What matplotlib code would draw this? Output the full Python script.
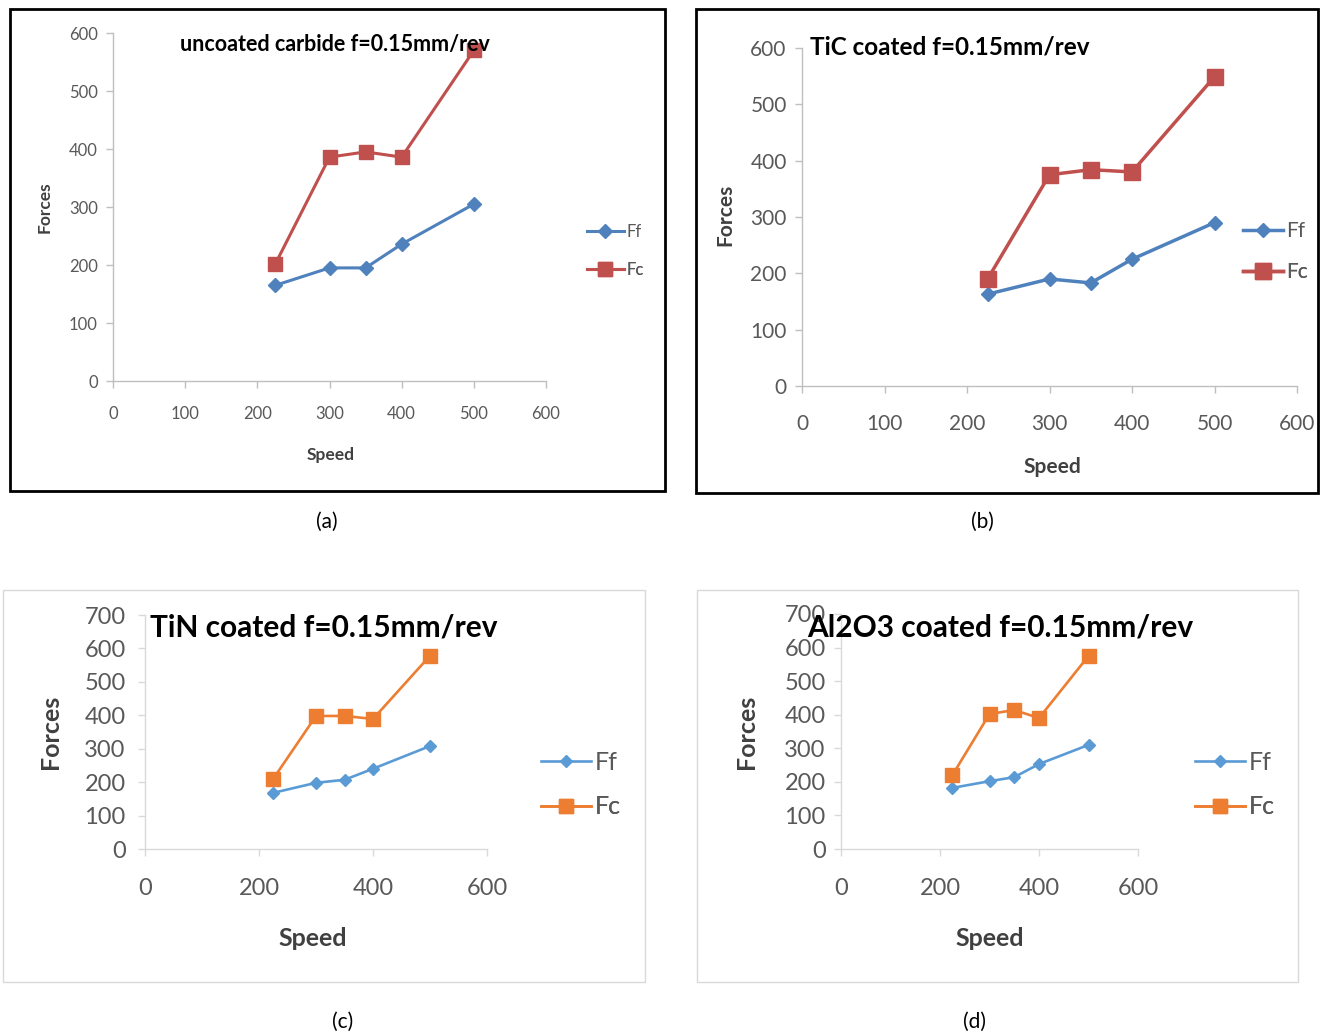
import matplotlib
matplotlib.use("Agg")
import matplotlib.pyplot as plt
from matplotlib.patches import Rectangle

plt.rcParams['font.family'] = ['Lato', 'DejaVu Sans']

# ---- data ----
speed = [225, 300, 350, 400, 500]

ff_a = [165, 195, 195, 236, 305]
fc_a = [202, 386, 395, 386, 570]

ff_b = [163, 190, 183, 225, 290]
fc_b = [190, 375, 384, 380, 549]

ff_c = [168, 198, 207, 240, 308]
fc_c = [210, 398, 398, 389, 578]

ff_d = [182, 202, 214, 253, 310]
fc_d = [220, 402, 414, 390, 575]

titles = ["uncoated carbide f=0.15mm/rev", "TiC coated f=0.15mm/rev",
          "TiN coated f=0.15mm/rev", "Al2O3 coated f=0.15mm/rev"]
captions = ["(a)", "(b)", "(c)", "(d)"]
series_names = ["Ff", "Fc"]
x_label = "Speed"
y_label = "Forces"

W, H = 1320, 1035
fig = plt.figure(figsize=(W / 100, H / 100), dpi=100)


def fx(p):
    return p / W


def fy(p):
    return 1 - p / H


def frame(x0, y0, x1, y1, color, lw):
    r = Rectangle((fx(x0), fy(y1)), (x1 - x0) / W, (y1 - y0) / H,
                  transform=fig.transFigure, fill=False, edgecolor=color, lw=lw)
    fig.patches.append(r)


panels = [
    dict(ff=ff_a, fc=fc_a, box=(113, 33, 546, 381), ymax=600, xstep=100, ystep=100,
         cols=("#4F81BD", "#C0504D"), tick_fs=12, lab_fs=12.5, title_fs=15.5,
         title_xy=(335, 44), title_ha='center', ms=(7.5, 10), lw=2.2,
         xpad=13, ypad=6,
         xlab_xy=(331, 455), ylab_xy=(45, 207), leg_x=587, leg_y=(232, 270),
         leg_fs=12, hl=2.2,
         frame=(10, 9, 665, 491), fcol='black', flw=2.0, cap_xy=(327, 522)),
    dict(ff=ff_b, fc=fc_b, box=(802, 48, 1297, 386), ymax=600, xstep=100, ystep=100,
         cols=("#4F81BD", "#C0504D"), tick_fs=15, lab_fs=15, title_fs=17.5,
         title_xy=(810, 47), title_ha='left', ms=(7.5, 11.5), lw=2.5,
         xpad=15, ypad=6,
         xlab_xy=(1052, 467), ylab_xy=(725, 215), leg_x=1243, leg_y=(231, 272),
         leg_fs=15, hl=1.9,
         frame=(696, 9, 1318, 493), fcol='black', flw=2.0, cap_xy=(982, 522)),
    dict(ff=ff_c, fc=fc_c, box=(145, 615, 487, 849), ymax=700, xstep=200, ystep=100,
         cols=("#5B9BD5", "#ED7D31"), tick_fs=17, lab_fs=18, title_fs=21.5,
         title_xy=(150, 628), title_ha='left', ms=(6, 9.5), lw=1.9,
         xpad=16, ypad=9,
         xlab_xy=(313, 938), ylab_xy=(50, 732), leg_x=541, leg_y=(762, 807),
         leg_fs=18, hl=2.0,
         frame=(3, 590, 645, 982), fcol='#D9D9D9', flw=1.0, cap_xy=(343, 1022)),
    dict(ff=ff_d, fc=fc_d, box=(841, 614, 1138, 849), ymax=700, xstep=200, ystep=100,
         cols=("#5B9BD5", "#ED7D31"), tick_fs=17, lab_fs=18, title_fs=21.5,
         title_xy=(807, 628), title_ha='left', ms=(6, 9.5), lw=1.9,
         xpad=16, ypad=6,
         xlab_xy=(990, 938), ylab_xy=(747, 732), leg_x=1195, leg_y=(762, 807),
         leg_fs=18, hl=2.0,
         frame=(697, 590, 1298, 982), fcol='#D9D9D9', flw=1.0, cap_xy=(974, 1022)),
]

text_gray = "#595959"

for i, p in enumerate(panels):
    x0, y0, x1, y1 = p['box']
    ax = fig.add_axes([fx(x0), fy(y1), (x1 - x0) / W, (y1 - y0) / H])
    ax.set_facecolor('none')
    l1, = ax.plot(speed, p['ff'], color=p['cols'][0], marker='D', ms=p['ms'][0],
                  lw=p['lw'], label=series_names[0], clip_on=False)
    l2, = ax.plot(speed, p['fc'], color=p['cols'][1], marker='s', ms=p['ms'][1],
                  lw=p['lw'], label=series_names[1], clip_on=False)
    ax.set_xlim(0, 600)
    ax.set_ylim(0, p['ymax'])
    ax.set_xticks(range(0, 601, p['xstep']))
    ax.set_yticks(range(0, p['ymax'] + 1, p['ystep']))
    for s in ('top', 'right'):
        ax.spines[s].set_visible(False)
    acol = "#BFBFBF" if i < 2 else "#D9D9D9"
    for s in ('left', 'bottom'):
        ax.spines[s].set_color(acol)
        ax.spines[s].set_linewidth(1.0)
    ax.tick_params(axis='both', colors=acol, labelcolor=text_gray,
                   labelsize=p['tick_fs'], length=5, width=1)
    ax.tick_params(axis='x', pad=p['xpad'])
    ax.tick_params(axis='y', pad=p['ypad'])

    fig.text(fx(p['title_xy'][0]), fy(p['title_xy'][1]), titles[i],
             ha=p['title_ha'], va='center', fontsize=p['title_fs'],
             fontweight='bold', color='black', zorder=5)
    fig.text(fx(p['xlab_xy'][0]), fy(p['xlab_xy'][1]), x_label, ha='center',
             va='center', fontsize=p['lab_fs'], fontweight='bold', color='#404040')
    fig.text(fx(p['ylab_xy'][0]), fy(p['ylab_xy'][1]), y_label, ha='center',
             va='center', rotation=90, fontsize=p['lab_fs'], fontweight='bold',
             color='#404040')
    for line, ly in zip((l1, l2), p['leg_y']):
        leg = ax.legend(handles=[line], loc='center left',
                        bbox_to_anchor=(fx(p['leg_x']), fy(ly)),
                        bbox_transform=fig.transFigure, frameon=False,
                        fontsize=p['leg_fs'], handlelength=p['hl'],
                        handletextpad=0.15, borderaxespad=0, borderpad=0)
        for t in leg.get_texts():
            t.set_color(text_gray)
        ax.add_artist(leg)
    frame(*p['frame'], p['fcol'], p['flw'])
    fig.text(fx(p['cap_xy'][0]), fy(p['cap_xy'][1]), captions[i], ha='center',
             va='center', fontsize=15, color='black')

fig.savefig("out.png", dpi=100, facecolor='white')
